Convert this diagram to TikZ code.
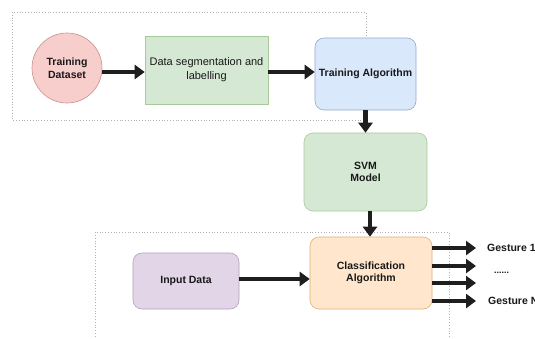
\documentclass[tikz,border=0pt]{standalone}
\usepackage{fontspec}
\setmainfont{Liberation Sans}
\usetikzlibrary{arrows.meta}
\definecolor{redF}{HTML}{F8CECC}\definecolor{redD}{HTML}{C9908C}
\definecolor{grnF}{HTML}{D5E8D4}\definecolor{grnD}{HTML}{A8C99A}
\definecolor{bluF}{HTML}{DAE8FC}\definecolor{bluD}{HTML}{8FA9CF}
\definecolor{orgF}{HTML}{FFE6CC}\definecolor{orgD}{HTML}{E0B070}
\definecolor{purF}{HTML}{E1D5E7}\definecolor{purD}{HTML}{B4A0BE}
\definecolor{arr}{HTML}{1E1E1E}
\tikzset{
  box/.style={draw, line width=0.6pt, inner sep=0pt, font=\bfseries\fontsize{10.5}{12.5}\selectfont, align=center, text=black!90},
  rbox/.style={box, rounded corners=9pt},
  bigarrow/.style={draw=arr, line width=4.5pt, -{Triangle[length=10pt,width=14pt]}, shorten >=0pt},
  frame/.style={draw=gray!60, dotted, line width=0.8pt},
  glabel/.style={font=\bfseries\fontsize{10.5}{12}\selectfont, anchor=west, text=black!90, inner sep=0pt}
}
\begin{document}
\begin{tikzpicture}[x=1pt,y=-1pt]
\useasboundingbox (0,0) rectangle (535,338);
\clip (0,0) rectangle (535,338);
\fill[white] (0,0) rectangle (535,338);
% frames
\draw[frame] (12,12) rectangle (366,120);
\draw[frame] (95,345) -- (95,232) -- (449,232) -- (449,345);
% nodes
\node[box, circle, fill=redF, draw=redD, minimum size=70pt] (ds) at (67,68) {Training\\Dataset};
\node[box, fill=grnF, draw=grnD, minimum width=123pt, minimum height=68pt, font=\fontsize{11}{14}\selectfont] (seg) at (206.5,70) {Data segmentation and\\labelling};
\node[rbox, fill=bluF, draw=bluD, minimum width=101pt, minimum height=72pt] (ta) at (365.5,74) {Training Algorithm};
\node[rbox, fill=grnF, draw=grnD, minimum width=123pt, minimum height=78pt] (svm) at (365.5,172) {SVM\\Model};
\node[rbox, fill=orgF, draw=orgD, minimum width=122pt, minimum height=72pt] (cls) at (371,273) {Classification\\Algorithm};
\node[rbox, fill=purF, draw=purD, minimum width=106pt, minimum height=56pt] (inp) at (186,281) {Input Data};
% arrows
\draw[bigarrow] (ds.east |- 0,72) -- (seg.west |- 0,72);
\draw[bigarrow] (seg.east |- 0,72) -- (ta.west |- 0,72);
\draw[bigarrow] (ta.south) -- (svm.north);
\draw[bigarrow] (svm.south -| 370,0) -- (cls.north -| 370,0);
\draw[bigarrow] (inp.east |- 0,279) -- (cls.west |- 0,279);
% outputs
\coordinate (o1) at (476,248);
\coordinate (o2) at (476,266);
\coordinate (o3) at (476,283);
\coordinate (o4) at (476,301);
\draw[bigarrow] (cls.east |- o1) -- (o1);
\draw[bigarrow] (cls.east |- o2) -- (o2);
\draw[bigarrow] (cls.east |- o3) -- (o3);
\draw[bigarrow] (cls.east |- o4) -- (o4);
\node[glabel] (g1) at (487,248) {Gesture 1};
\node[glabel, font=\bfseries\fontsize{9}{10}\selectfont] (gd) at (494,273) {......};
\node[glabel] (gn) at (488,301) {Gesture N};
\end{tikzpicture}
\end{document}
